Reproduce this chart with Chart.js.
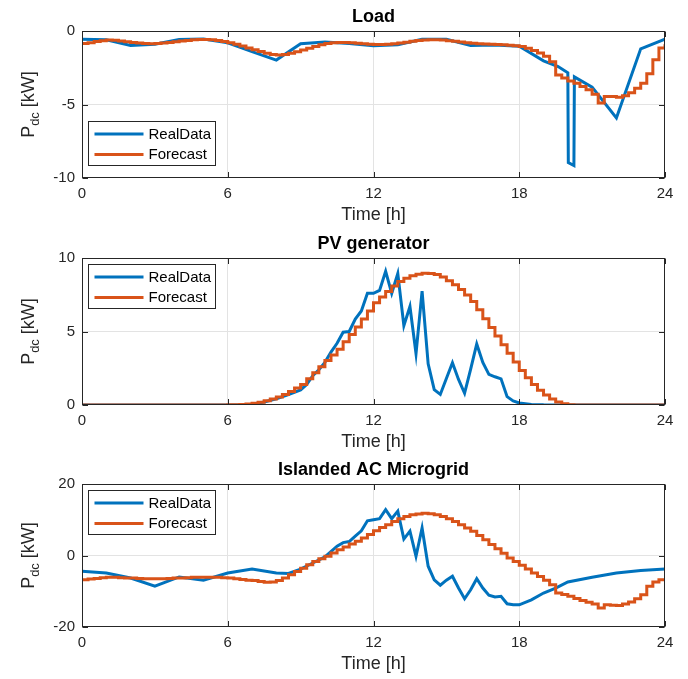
<!DOCTYPE html>
<html>
<head>
<meta charset="utf-8">
<script src="https://cdn.jsdelivr.net/npm/chart.js@4.4.0/dist/chart.umd.min.js"></script>
<style>
  html, body { margin: 0; padding: 0; background: #fff; overflow: hidden; }
  .panel { position: absolute; left: 0; width: 688px; height: 230px; }
</style>
</head>
<body>
<div class="panel" style="top:0px"><canvas id="loadChart" width="688" height="230"></canvas></div>
<div class="panel" style="top:227px"><canvas id="pvChart" width="688" height="230"></canvas></div>
<div class="panel" style="top:453px"><canvas id="gridChart" width="688" height="226"></canvas></div>
<script>
// ---- data ----
const xTicks = [0, 6, 12, 18, 24];
const loadTicks = [-10, -5, 0];
const pvTicks = [0, 5, 10];
const gridTicks = [-20, 0, 20];

// forecast is given every 15 min
const fcHours = Array.from({ length: 97 }, (_, i) => i * 0.25);

const loadRealTime = [0, 1, 2, 3, 4, 5, 6, 7, 8, 9, 10, 11, 12, 13, 14, 15, 16, 17, 18, 19, 19.6, 20, 20.02, 20.25, 20.27, 21, 22, 23, 24];
const loadRealKW = [-0.56, -0.6, -0.98, -0.9, -0.58, -0.55, -0.8, -1.4, -1.98, -0.86, -0.75, -0.85, -1.0, -0.93, -0.56, -0.56, -0.98, -0.95, -1.03, -2.03, -2.42, -2.84, -8.95, -9.15, -3.12, -3.82, -5.92, -1.21, -0.56];
const loadForecastKW = [
  -0.85, -0.80, -0.72, -0.66, -0.62, -0.63, -0.68, -0.73, -0.78, -0.82, -0.85, -0.86,
  -0.85, -0.82, -0.78, -0.73, -0.68, -0.64, -0.60, -0.58, -0.57, -0.60, -0.65, -0.72,
  -0.80, -0.90, -1.02, -1.15, -1.27, -1.40, -1.52, -1.60, -1.63, -1.60, -1.52, -1.42,
  -1.30, -1.18, -1.05, -0.93, -0.85, -0.80, -0.78, -0.78, -0.80, -0.83, -0.87, -0.90,
  -0.92, -0.92, -0.90, -0.86, -0.82, -0.76, -0.70, -0.65, -0.62, -0.60, -0.60, -0.62,
  -0.66, -0.70, -0.75, -0.80, -0.83, -0.86, -0.88, -0.90, -0.92, -0.94, -0.97, -1.00,
  -1.05, -1.18, -1.33, -1.50, -1.72, -2.10, -3.00, -3.20, -3.40, -3.55, -3.78, -4.00,
  -4.30, -4.90, -4.45, -4.45, -4.50, -4.40, -4.20, -3.90, -3.55, -2.90, -1.95, -1.15,
  -0.90
];

const pvRealTime = [0, 6, 6.5, 7, 7.5, 8, 8.5, 9, 9.25, 9.5, 9.75, 10, 10.25, 10.5, 10.75, 11, 11.25, 11.5, 11.75, 12, 12.25, 12.5, 12.75, 13, 13.25, 13.5, 13.75, 14, 14.25, 14.5, 14.75, 15, 15.25, 15.5, 15.75, 16, 16.25, 16.5, 16.75, 17, 17.25, 17.5, 17.75, 18, 18.5, 19, 19.5, 24];
const pvRealKW = [0, 0, 0, 0.05, 0.2, 0.42, 0.7, 1.03, 1.4, 2.0, 2.4, 2.9, 3.6, 4.2, 4.95, 5.0, 5.84, 6.4, 7.6, 7.6, 7.8, 9.1, 7.6, 8.94, 5.4, 6.7, 3.5, 7.75, 2.8, 1.05, 0.72, 1.8, 2.87, 1.74, 0.8, 2.44, 4.15, 2.9, 2.08, 1.92, 1.78, 0.57, 0.28, 0.14, 0.04, 0.01, 0, 0];
const pvForecastKW = [
  0, 0, 0, 0, 0, 0, 0, 0, 0, 0, 0, 0,
  0, 0, 0, 0, 0, 0, 0, 0, 0, 0, 0, 0,
  0.01, 0.02, 0.04, 0.07, 0.12, 0.19, 0.29, 0.41, 0.55, 0.72, 0.92, 1.15,
  1.40, 1.78, 2.20, 2.60, 3.03, 3.40, 3.80, 4.30, 4.80, 5.30, 5.85, 6.40,
  6.95, 7.35, 7.72, 8.10, 8.40, 8.62, 8.80, 8.90, 8.96, 8.95, 8.87, 8.70,
  8.45, 8.18, 7.86, 7.48, 7.04, 6.48, 5.87, 5.28, 4.70, 4.10, 3.52, 2.92,
  2.35, 1.85, 1.39, 1.00, 0.68, 0.40, 0.21, 0.08, 0.02, 0, 0, 0,
  0, 0, 0, 0, 0, 0, 0, 0, 0, 0, 0, 0,
  0
];

const gridRealTime = [0, 1, 2, 3, 4, 5, 6, 7, 8, 8.5, 9, 9.5, 10, 10.5, 10.75, 11, 11.25, 11.5, 11.75, 12, 12.25, 12.5, 12.75, 13, 13.25, 13.5, 13.75, 14, 14.25, 14.5, 14.75, 15, 15.25, 15.5, 15.75, 16, 16.25, 16.5, 16.75, 17, 17.25, 17.5, 17.75, 18, 18.5, 19, 19.5, 20, 21, 22, 23, 24];
const gridRealKW = [-4.4, -4.9, -6.3, -8.6, -6.0, -6.9, -4.9, -3.8, -4.9, -5.0, -3.8, -2.1, -0.4, 2.6, 3.6, 3.9, 5.4, 6.9, 9.7, 10.0, 10.3, 12.8, 10.3, 12.4, 4.6, 6.8, -0.2, 7.7, -3.0, -6.8, -8.3, -6.9, -5.8, -9.1, -12.1, -9.6, -6.5, -9.1, -11.1, -11.6, -11.4, -13.5, -13.8, -13.8, -12.4, -10.5, -9.1, -7.4, -6.1, -4.9, -4.2, -3.8];
const gridForecastKW = [
  -6.8, -6.6, -6.4, -6.2, -6.1, -6.1, -6.2, -6.3, -6.3, -6.4, -6.5, -6.5,
  -6.5, -6.5, -6.4, -6.3, -6.3, -6.2, -6.1, -6.1, -6.1, -6.1, -6.1, -6.2,
  -6.3, -6.5, -6.7, -6.9, -7.0, -7.3, -7.5, -7.4, -7.0, -6.3, -5.4, -4.5,
  -3.6, -2.6, -1.7, -0.9, -0.2, 0.7, 1.6, 2.4, 3.2, 4.0, 4.9, 5.9,
  6.9, 7.8, 8.6, 9.5, 10.3, 10.9, 11.4, 11.6, 11.8, 11.7, 11.4, 10.9,
  10.3, 9.5, 8.6, 7.7, 6.8, 5.6, 4.4, 3.1, 1.9, 0.6, -0.7, -1.7,
  -2.7, -3.8, -4.9, -5.9, -6.9, -8.2, -10.5, -10.9, -11.4, -12.0, -12.6, -13.1,
  -13.6, -14.7, -13.8, -13.9, -14.0, -13.6, -13.0, -12.1, -11.0, -8.6, -7.4, -6.8,
  -6.5
];

const FONT = '"Liberation Sans", Arial, Helvetica, sans-serif';
const INK = '#262626';
const BLUE = '#0072BD';
const ORANGE = '#D95319';

// titles, axis labels, legend and inward ticks, MATLAB style
const decorPlugin = {
  id: 'decor',
  afterDraw(chart, args, opts) {
    const ctx = chart.ctx;
    const a = chart.chartArea;
    const L = Math.round(a.left) + 0.5, R = Math.round(a.right) - 0.5;
    const T = Math.round(a.top) + 0.5, B = Math.round(a.bottom) - 0.5;
    const xs = chart.scales.x, ys = chart.scales.y;
    ctx.save();

    // inward ticks
    ctx.strokeStyle = INK;
    ctx.lineWidth = 1;
    ctx.beginPath();
    xTicks.forEach(v => {
      const px = Math.round(xs.getPixelForValue(v)) + 0.5;
      ctx.moveTo(px, T); ctx.lineTo(px, T + 5.5);
      ctx.moveTo(px, B); ctx.lineTo(px, B - 5.5);
    });
    opts.yTicks.forEach(v => {
      const py = Math.round(ys.getPixelForValue(v)) + 0.5;
      ctx.moveTo(L, py); ctx.lineTo(L + 5.5, py);
      ctx.moveTo(R, py); ctx.lineTo(R - 5.5, py);
    });
    ctx.stroke();
    // box
    ctx.strokeRect(L, T, R - L, B - T);

    const cx = (a.left + a.right) / 2;
    ctx.fillStyle = '#000';
    ctx.textAlign = 'center';
    ctx.textBaseline = 'alphabetic';
    ctx.font = 'bold 18px ' + FONT;
    ctx.fillText(opts.title, cx, a.top - 9);

    ctx.fillStyle = INK;
    ctx.font = '18px ' + FONT;
    ctx.fillText('Time [h]', cx, a.bottom + 42);

    // y label P_dc [kW]
    const cy = (a.top + a.bottom) / 2;
    ctx.translate(34, cy);
    ctx.rotate(-Math.PI / 2);
    const big = '18px ' + FONT, small = '13px ' + FONT;
    ctx.font = big; const wP = ctx.measureText('P').width; const wU = ctx.measureText(' [kW]').width;
    ctx.font = small; const wS = ctx.measureText('dc').width;
    let x0 = -(wP + wS + wU) / 2;
    ctx.textAlign = 'left';
    ctx.font = big; ctx.fillText('P', x0, 0);
    ctx.font = small; ctx.fillText('dc', x0 + wP, 5);
    ctx.font = big; ctx.fillText(' [kW]', x0 + wP + wS, 0);
    ctx.setTransform(1, 0, 0, 1, 0, 0);

    // legend
    const bw = 127, bh = 44;
    const bx = Math.round(a.left) + 6.5;
    const by = opts.legendAt === 'bottom' ? Math.round(a.bottom) - 12.5 - bh : Math.round(a.top) + 6.5;
    ctx.fillStyle = '#fff';
    ctx.fillRect(bx, by, bw, bh);
    ctx.strokeStyle = INK;
    ctx.lineWidth = 1;
    ctx.strokeRect(bx, by, bw, bh);
    ctx.font = '15px ' + FONT;
    ctx.textBaseline = 'middle';
    ctx.textAlign = 'left';
    chart.data.datasets.forEach((ds, i) => {
      const ly = by + 12.5 + i * 20.5;
      ctx.strokeStyle = ds.borderColor;
      ctx.lineWidth = 3;
      ctx.beginPath();
      ctx.moveTo(bx + 6, ly); ctx.lineTo(bx + 55, ly);
      ctx.stroke();
      ctx.fillStyle = '#000';
      ctx.fillText(ds.label, bx + 60, ly + 0.5);
    });
    ctx.restore();
  }
};

function edgeGrid(ticks) {
  return c => (c.tick && (c.tick.value === ticks[0] || c.tick.value === ticks[ticks.length - 1])) ? 'rgba(0,0,0,0)' : '#e3e3e3';
}

function makeChart(id, title, realT, realP, fcP, yTicks, legendAt) {
  const canvas = document.getElementById(id);
  return new Chart(canvas, {
    type: 'line',
    data: {
      datasets: [
        {
          label: 'RealData',
          data: realT.map((t, i) => ({ x: t, y: realP[i] })),
          borderColor: BLUE,
          borderWidth: 3,
          pointRadius: 0,
          tension: 0,
          order: 1
        },
        {
          label: 'Forecast',
          data: fcHours.map((t, i) => ({ x: t, y: fcP[i] })),
          borderColor: ORANGE,
          borderWidth: 3,
          pointRadius: 0,
          stepped: true,
          order: 0
        }
      ]
    },
    options: {
      responsive: false,
      animation: false,
      devicePixelRatio: 1,
      layout: { padding: { left: 0, right: 23, top: 31, bottom: 0 } },
      plugins: {
        legend: { display: false },
        tooltip: { enabled: false },
        decor: { title: title, yTicks: yTicks, legendAt: legendAt }
      },
      scales: {
        x: {
          type: 'linear',
          min: xTicks[0],
          max: xTicks[xTicks.length - 1],
          afterBuildTicks: s => { s.ticks = xTicks.map(v => ({ value: v })); },
          afterFit: s => { s.height = 52; },
          border: { display: false },
          grid: { color: edgeGrid(xTicks), drawTicks: false, lineWidth: 1 },
          ticks: { color: INK, font: { family: FONT, size: 15 }, padding: 7, maxRotation: 0 }
        },
        y: {
          min: yTicks[0],
          max: yTicks[yTicks.length - 1],
          afterBuildTicks: s => { s.ticks = yTicks.map(v => ({ value: v })); },
          afterFit: s => { s.width = 82; },
          border: { display: false },
          grid: { color: edgeGrid(yTicks), drawTicks: false, lineWidth: 1 },
          ticks: { color: INK, font: { family: FONT, size: 15 }, padding: 7 }
        }
      }
    },
    plugins: [decorPlugin]
  });
}

makeChart('loadChart', 'Load', loadRealTime, loadRealKW, loadForecastKW, loadTicks, 'bottom');
makeChart('pvChart', 'PV generator', pvRealTime, pvRealKW, pvForecastKW, pvTicks, 'top');
makeChart('gridChart', 'Islanded AC Microgrid', gridRealTime, gridRealKW, gridForecastKW, gridTicks, 'top');
</script>
</body>
</html>
